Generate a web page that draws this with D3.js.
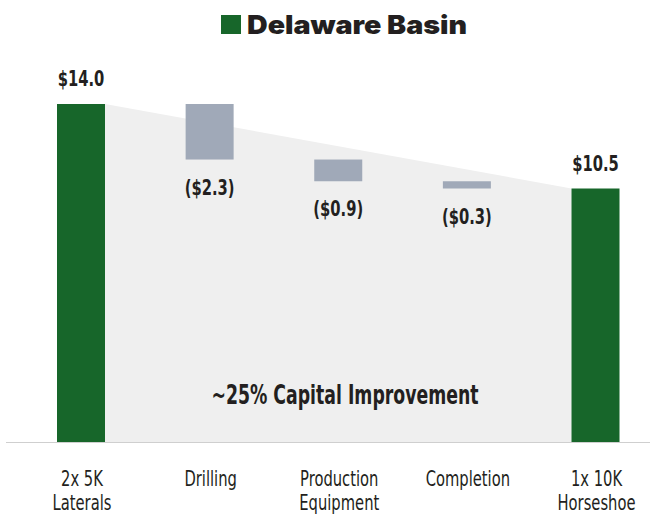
<!DOCTYPE html>
<html><head><meta charset="utf-8">
<script src="https://cdn.jsdelivr.net/npm/d3@7"></script>
<style>
html,body{margin:0;padding:0;background:#fff;}
svg{display:block;}
</style></head>
<body>
<script>
const categories = ["2x 5K Laterals", "Drilling", "Production Equipment", "Completion", "1x 10K Horseshoe"];
const labelLines = [["2x 5K", "Laterals"], ["Drilling"], ["Production", "Equipment"], ["Completion"], ["1x 10K", "Horseshoe"]];
const values = [14.0, -2.3, -0.9, -0.3, 10.5];
const barTypes = ["total", "delta", "delta", "delta", "total"];
const valueLabels = ["$14.0", "($2.3)", "($0.9)", "($0.3)", "$10.5"];
const title = "Delaware Basin";
const annotation = "~25% Capital Improvement";

const W = 650, H = 515;
const green = "#17662a", grey = "#a0a9b8", ink = "#231f20", shade = "#efefef";
const condFont = "'Liberation Sans Narrow', 'DejaVu Sans Condensed', sans-serif";
const svg = d3.select("body").append("svg").attr("width", W).attr("height", H);

const x = d3.scalePoint().domain(categories).range([81, 595.5]);
const y = d3.scaleLinear().domain([0, 14]).range([442, 104]);
const bw = 48;

// compute waterfall segments
let run = 0;
const segs = categories.map((c, i) => {
  let lo, hi;
  if (barTypes[i] === "total") { lo = 0; hi = values[i]; run = values[i]; }
  else { hi = run; lo = run + values[i]; run = lo; }
  return {c, lo, hi, type: barTypes[i], label: valueLabels[i]};
});

// shaded area
const first = segs[0], last = segs[segs.length - 1];
const poly = [
  [x(first.c) + bw / 2, y(first.hi)],
  [x(last.c) - bw / 2, y(last.hi)],
  [x(last.c) - bw / 2, y(0)],
  [x(first.c) + bw / 2, y(0)]
];
svg.append("path").attr("d", d3.line()(poly) + "Z").attr("fill", shade);

// baseline
svg.append("line").attr("x1", 6).attr("x2", W).attr("y1", y(0) + 0.5).attr("y2", y(0) + 0.5)
  .attr("stroke", "#cfcfcf").attr("stroke-width", 1.2);

// bars
svg.selectAll("rect.bar").data(segs).join("rect")
  .attr("x", d => x(d.c) - bw / 2)
  .attr("width", bw)
  .attr("y", d => y(d.hi))
  .attr("height", d => y(d.lo) - y(d.hi))
  .attr("fill", d => d.type === "total" ? green : grey);

// value labels
svg.selectAll("text.val").data(segs).join("text")
  .attr("text-anchor", "middle")
  .attr("transform", d => {
    const ty = d.type === "total" ? y(d.hi) - 18 : y(d.lo) + 35;
    return `translate(${x(d.c)},${ty}) scale(0.78,1)`;
  })
  .attr("font-family", condFont)
  .attr("font-weight", "bold")
  .attr("font-size", 21)
  .attr("fill", ink)
  .text(d => d.label);

// category labels (one text per category, lines as tspans)
svg.selectAll("text.cat").data(categories).join("text")
  .attr("text-anchor", "middle")
  .attr("transform", d => `translate(${x(d) + 1},486) scale(0.78,1)`)
  .attr("font-family", condFont)
  .attr("font-size", 21)
  .attr("fill", ink)
  .each(function(d, i) {
    labelLines[i].forEach((ln, j) => {
      d3.select(this).append("tspan")
        .attr("x", 0)
        .attr("dy", j === 0 ? 0 : 24.5)
        .text(ln);
    });
  });

// annotation
svg.append("text")
  .attr("text-anchor", "middle")
  .attr("transform", `translate(345,404) scale(0.74,1)`)
  .attr("font-family", condFont)
  .attr("font-weight", "bold")
  .attr("font-size", 26)
  .attr("fill", ink)
  .text(annotation);

// title
svg.append("rect").attr("x", 221).attr("y", 15).attr("width", 20).attr("height", 19).attr("fill", green);
svg.append("text")
  .attr("transform", "translate(247,34) scale(1.1,1)")
  .attr("font-family", "Inter, Roboto, sans-serif")
  .attr("font-weight", 900)
  .attr("font-size", 26)
  .attr("fill", ink)
  .text(title);
</script>
</body></html>
